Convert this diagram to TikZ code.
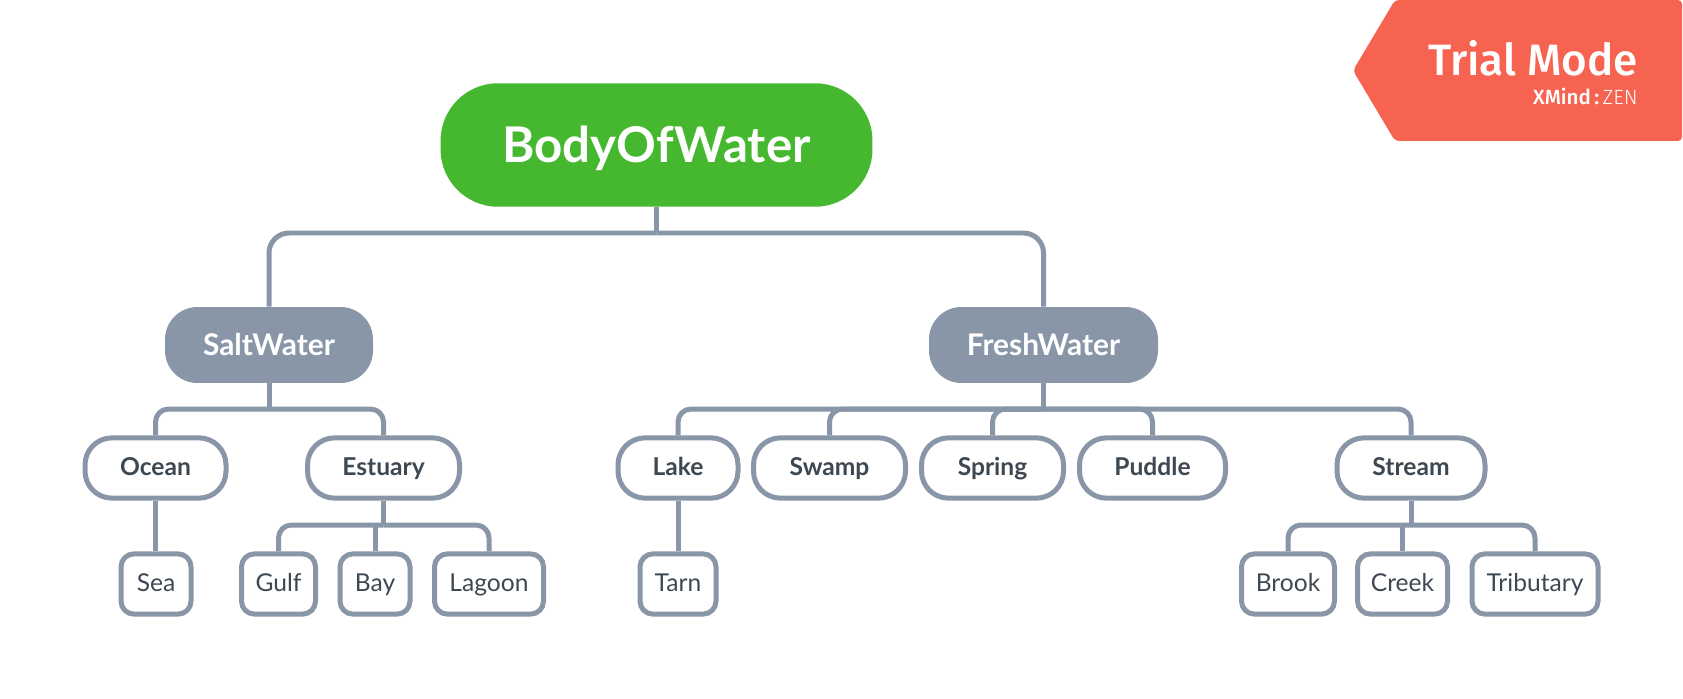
\documentclass[tikz,border=0pt]{standalone}
\usepackage{fontspec}
\setmainfont{Lato}
\newfontfamily\trialfont{Fira Sans Medium}
\newfontfamily\zenfont{Fira Sans Light}
\definecolor{linec}{HTML}{8996A8}
\definecolor{greenc}{HTML}{46B82F}
\definecolor{textc}{HTML}{3E4852}
\definecolor{trialc}{HTML}{F66451}
\tikzset{x=0.02cm,y=-0.02cm,
 conn/.style={draw=linec,line width=0.1cm,line join=round},
 armroot/.style={conn,rounded corners=0.4cm},
 arm/.style={conn,rounded corners=0.26cm},
 root/.style={fill=greenc,text=white,font=\bfseries\fontsize{28}{28}\selectfont,rounded corners=1.15cm,minimum width=8.64cm,minimum height=2.47cm,inner sep=0,text height=0.874cm,text depth=0.16cm},
 mainb/.style={fill=linec,text=white,font=\bfseries\fontsize{17}{17}\selectfont,inner sep=0,minimum height=1.52cm,rounded corners=0.65cm,text height=0.54cm,text depth=0.1cm},
 subb/.style={draw=linec,line width=0.1cm,fill=white,text=textc,font=\bfseries\fontsize{14}{14}\selectfont,inner sep=0,minimum height=1.206cm,rounded corners=0.54cm,text height=0.36cm,text depth=0.08cm},
 leaf/.style={draw=linec,line width=0.1cm,fill=white,text=textc,font=\fontsize{14}{14}\selectfont,inner sep=0,minimum height=1.206cm,rounded corners=0.26cm,text height=0.368cm,text depth=0.08cm},
 boxw/.style={minimum width=#1*0.02cm-0.1cm},
 mainw/.style={minimum width=#1*0.02cm},
}
\begin{document}
\begin{tikzpicture}
\useasboundingbox (0,0) rectangle (1683,699);
\fill[white] (0,0) rectangle (1683,699);
\node[root] (body) at (656.5,145) {BodyOfWater};
\node[mainb,mainw=208] (salt) at (269,345) {SaltWater};
\node[mainb,mainw=229] (fresh) at (1043.5,345) {FreshWater};
\node[subb,boxw=146] (ocean) at (155.5,468) {Ocean};
\node[subb,boxw=157] (estuary) at (383.5,468) {Estuary};
\node[subb,boxw=125] (lake) at (678,468) {Lake};
\node[subb,boxw=157] (swamp) at (829.5,468) {Swamp};
\node[subb,boxw=147] (spring) at (992.5,468) {Spring};
\node[subb,boxw=151] (puddle) at (1152.5,468) {Puddle};
\node[subb,boxw=153] (stream) at (1411,468) {Stream};
\node[leaf,boxw=75] (sea) at (156,584) {Sea};
\node[leaf,boxw=79] (gulf) at (278.5,584) {Gulf};
\node[leaf,boxw=75] (bay) at (375,584) {Bay};
\node[leaf,boxw=114] (lagoon) at (489,584) {Lagoon};
\node[leaf,boxw=81] (tarn) at (678,584) {Tarn};
\node[leaf,boxw=98] (brook) at (1288,584) {Brook};
\node[leaf,boxw=95] (creek) at (1402.5,584) {Creek};
\node[leaf,boxw=131] (trib) at (1535,584) {Tributary};
\coordinate (bodybus) at (656.5,233);
\coordinate (saltbus) at (269,409);
\coordinate (freshbus) at (1043.5,409);
\coordinate (estbus) at (383.5,525);
\coordinate (strbus) at (1411,525);
\draw[conn] (body.south) -- (bodybus);
\draw[armroot] (bodybus) -- (bodybus -| salt.north) -- (salt.north);
\draw[armroot] (bodybus) -- (bodybus -| fresh.north) -- (fresh.north);
\draw[conn] (salt.south) -- (saltbus);
\draw[arm] (saltbus) -- (saltbus -| ocean.north) -- (ocean.north);
\draw[arm] (saltbus) -- (saltbus -| estuary.north) -- (estuary.north);
\draw[conn] (fresh.south) -- (freshbus);
\draw[arm] (freshbus) -- (freshbus -| lake.north) -- (lake.north);
\draw[arm] (freshbus) -- (freshbus -| swamp.north) -- (swamp.north);
\draw[arm] (freshbus) -- (freshbus -| spring.north) -- (spring.north);
\draw[arm] (freshbus) -- (freshbus -| puddle.north) -- (puddle.north);
\draw[arm] (freshbus) -- (freshbus -| stream.north) -- (stream.north);
\draw[conn] (ocean.south) -- (ocean.south |- sea.north);
\draw[conn] (estuary.south) -- (estbus);
\draw[arm] (estbus) -- (estbus -| gulf.north) -- (gulf.north);
\draw[conn] (estbus -| bay.north) -- (bay.north);
\draw[arm] (estbus) -- (estbus -| lagoon.north) -- (lagoon.north);
\draw[conn] (lake.south) -- (tarn.north);
\draw[conn] (stream.south) -- (strbus);
\draw[arm] (strbus) -- (strbus -| brook.north) -- (brook.north);
\draw[conn] (strbus -| creek.north) -- (creek.north);
\draw[arm] (strbus) -- (strbus -| trib.north) -- (trib.north);
\fill[trialc,rounded corners=0.08cm] (1395,0) -- (1353,70.5) -- (1395,141) -- (1682,141) -- (1682,0) -- cycle;
\node[text=white,font=\trialfont\fontsize{25}{25}\selectfont,anchor=base east,inner sep=0] (tm) at (1638,76) {Trial Mode};
\node[text=white,font=\fontsize{11.7}{11.7}\selectfont,anchor=base east,inner sep=0] (xm) at (1638,105) {{\trialfont XMind\,:\,}{\zenfont ZEN}};
\end{tikzpicture}
\end{document}
